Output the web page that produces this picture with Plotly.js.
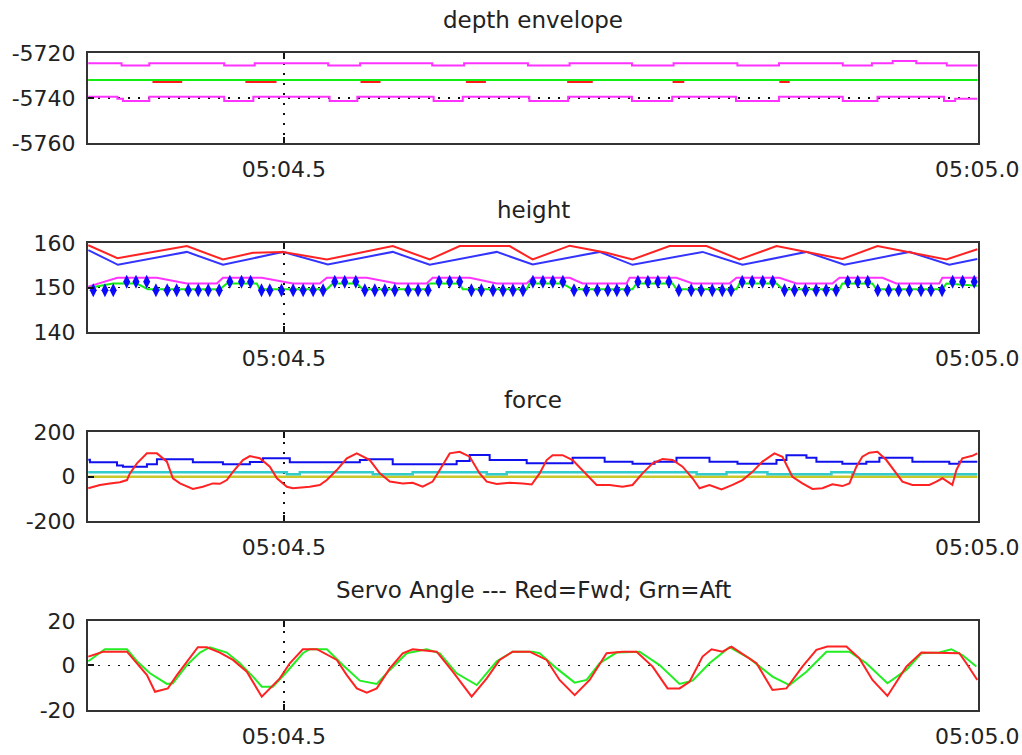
<!DOCTYPE html>
<html>
<head>
<meta charset="utf-8">
<script src="https://cdn.plot.ly/plotly-3.0.1.min.js"></script>
<style>html,body{margin:0;padding:0;background:#fff;}#chart{width:1022px;height:755px;}</style>
</head>
<body>
<div id="chart"></div>
<script>
// ---------- data (time in seconds within minute 05) ----------
const xTickVals = [4.5, 5.0];
const xTickText = ['05:04.5', '05:05.0'];

// depth envelope
const depthTopT = [4.359,4.383,4.403,4.457,4.479,4.532,4.555,4.607,4.630,4.676,4.706,4.751,4.781,4.827,4.857,4.903,4.924,4.939,4.956,4.978,5.000];
const depthTopV = [-5724.6,-5725.6,-5724.6,-5725.6,-5724.6,-5725.6,-5724.6,-5725.6,-5724.6,-5725.6,-5724.6,-5725.6,-5724.6,-5725.6,-5724.6,-5725.6,-5724.6,-5723.6,-5724.6,-5725.6,-5725.6];
const depthBotT = [4.359,4.380,4.384,4.403,4.457,4.478,4.533,4.553,4.608,4.629,4.677,4.705,4.751,4.780,4.826,4.857,4.903,4.928,4.976,4.984,5.000];
const depthBotV = [-5739.4,-5740.3,-5741.3,-5739.4,-5741.3,-5739.4,-5741.3,-5739.4,-5741.3,-5739.4,-5741.3,-5739.4,-5741.3,-5739.4,-5741.3,-5739.4,-5741.3,-5739.4,-5741.3,-5740.3,-5740.3];
const depthCmdT = [4.359,4.406,4.426,4.473,4.494,4.556,4.569,4.632,4.645,4.705,4.722,4.781,4.788,4.858,4.864,5.000];
const depthCmdV = [-5732,-5732.9,-5732,-5732.9,-5732,-5732.9,-5732,-5732.9,-5732,-5732.9,-5732,-5732.9,-5732,-5732.9,-5732,-5732];
const depthMidT = [4.359, 5.000];
const depthMidV = [-5732, -5732];
const depthTicks = [-5760, -5740, -5720];
const depthTickText = ['-5760', '-5740', '-5720'];

// height
const hRedT = [4.359,4.380,4.4301,4.4561,4.4777,4.4993,4.5310,4.5785,4.6052,4.6268,4.6628,4.6794,4.7061,4.7327,4.7514,4.7781,4.8048,4.8285,4.8552,4.8768,4.9027,4.9280,4.9532,4.9777,5.000];
const hRedV = [159.5,156.6,159.3,156.3,157.8,158.0,156.3,159.3,156.3,159.3,159.3,156.3,159.4,157.8,156.3,159.3,159.3,156.3,159.3,158.0,156.4,159.3,157.8,156.3,158.6];
const hBlueT = [4.359,4.3804,4.4301,4.4561,4.4993,4.5317,4.5785,4.6052,4.6535,4.6794,4.7277,4.7514,4.8019,4.8307,4.8768,4.9042,4.9510,4.9798,5.000];
const hBlueV = [158.4,155.1,158.0,155.1,158.0,155.2,158.0,155.1,158.0,155.2,158.0,155.1,158.0,155.1,158.0,155.1,158.0,155.1,156.4];
const hMagT = [4.359,4.380,4.4085,4.4301,4.4517,4.4561,4.4841,4.5065,4.5259,4.5310,4.5598,4.5814,4.6030,4.6073,4.6340,4.6535,4.6751,4.6794,4.7061,4.7154,4.7471,4.7493,4.7831,4.7947,4.8213,4.8264,4.8573,4.8696,4.8955,4.9006,4.9316,4.9416,4.9726,4.9748,5.000];
const hMagV = [150.2,152.2,152.2,150.9,150.9,152.2,152.2,150.9,150.9,152.2,152.2,150.9,150.9,152.2,152.2,150.9,150.9,152.2,152.2,150.9,150.9,152.2,152.2,150.9,150.9,152.2,152.2,150.9,150.9,152.2,152.2,150.9,150.9,152.2,152.2];
const hGrnT = [4.359,4.3768,4.3941,4.4020,4.4539,4.4589,4.4805,4.4827,4.5310,4.5353,4.5526,4.5569,4.6030,4.6052,4.6268,4.6290,4.6751,4.6772,4.7010,4.7082,4.7514,4.7543,4.7803,4.7831,4.8264,4.8285,4.8552,4.8595,4.9006,4.9027,4.9244,4.9272,4.9748,4.9777,5.000];
const hGrnV = [149.9,150.9,150.9,149.6,149.6,150.9,150.9,149.6,149.6,150.9,150.9,149.6,149.6,150.9,150.9,149.6,149.6,150.9,150.9,149.6,149.6,150.9,150.9,149.6,149.6,150.9,150.9,149.6,149.6,150.9,150.9,149.6,149.6,150.9,150.4];
const hMarkT = [4.3626,4.3710,4.3770,4.3867,4.3934,4.4011,4.4078,4.4159,4.4227,4.4311,4.4383,4.4455,4.4534,4.4611,4.4695,4.4760,4.4839,4.4899,4.4983,4.5067,4.5139,4.5211,4.5283,4.5367,4.5439,4.5519,4.5584,4.5656,4.5728,4.5800,4.5896,4.5968,4.6040,4.6119,4.6196,4.6268,4.6352,4.6424,4.6508,4.6580,4.6652,4.6724,4.6796,4.6868,4.6940,4.7012,4.7092,4.7181,4.7260,4.7336,4.7401,4.7476,4.7553,4.7625,4.7697,4.7776,4.7848,4.7937,4.8009,4.8089,4.8161,4.8225,4.8305,4.8377,4.8453,4.8525,4.8610,4.8682,4.8761,4.8838,4.8910,4.8982,4.9066,4.9138,4.9210,4.9282,4.9361,4.9433,4.9510,4.9594,4.9666,4.9746,4.9822,4.9894,4.9978];
const hMarkV = [149.4,149.4,149.4,151.3,151.3,151.3,149.4,149.4,149.4,149.4,149.4,149.4,149.4,151.3,151.3,151.3,149.4,149.4,149.4,149.4,149.4,149.4,149.4,151.3,151.3,151.3,149.4,149.4,149.4,149.4,149.4,149.4,149.4,151.3,151.3,151.3,149.4,149.4,149.4,149.4,149.4,149.4,151.3,151.3,151.3,151.3,149.4,149.4,149.4,149.4,149.4,149.4,151.3,151.3,151.3,151.3,149.4,149.4,149.4,149.4,149.4,149.4,151.3,151.3,151.3,151.3,149.4,149.4,149.4,149.4,149.4,149.4,151.3,151.3,151.3,149.4,149.4,149.4,149.4,149.4,149.4,149.4,151.3,151.3,151.3];
const heightTicks = [140, 150, 160];
const heightTickText = ['140', '150', '160'];

// force
const fBlueT = [4.359,4.3602,4.3797,4.3840,4.4013,4.4085,4.4344,4.4561,4.4755,4.4849,4.5043,4.5548,4.5598,4.5785,4.6246,4.6340,4.6484,4.6751,4.7082,4.7313,4.7514,4.7673,4.7831,4.8069,4.8271,4.8552,4.8624,4.8768,4.8840,4.9027,4.9200,4.9294,4.9532,4.9798,4.9870,5.000];
const fBlueV = [75,64,50,44,55,77,64,55,65,82,64,74,77,55,70,97,74,60,84.5,66.6,57.8,66.6,84.5,66.6,57.8,74,96,84,66,57.8,66.6,84.5,66,57.8,66,66];
const fCyanT = [4.359,4.5022,4.5115,4.5641,4.5929,4.6463,4.6607,4.7976,4.8192,4.8487,4.8948,4.9099,5.000];
const fCyanV = [19,10,19,10,19,10,19,10,19,10,19,10,10];
const fYelT = [4.359, 5.000];
const fYelV = [-1, -1];
const fRedT = [4.359,4.3674,4.3746,4.3818,4.3869,4.3890,4.3941,4.4013,4.4085,4.4157,4.4200,4.4251,4.4344,4.4416,4.4488,4.4539,4.4589,4.4633,4.4705,4.4755,4.4827,4.4899,4.4950,4.5022,4.5065,4.5187,4.5259,4.5310,4.5382,4.5454,4.5526,4.5620,4.5692,4.5764,4.5857,4.5929,4.6001,4.6073,4.6124,4.6196,4.6268,4.6340,4.6412,4.6463,4.6535,4.6628,4.6722,4.6787,4.6844,4.6895,4.6938,4.7010,4.7082,4.7154,4.7255,4.7349,4.7442,4.7514,4.7586,4.7659,4.7731,4.7803,4.7875,4.7947,4.7997,4.8069,4.8156,4.8235,4.8307,4.8379,4.8451,4.8537,4.8595,4.8667,4.8739,4.8811,4.8883,4.8955,4.9027,4.9078,4.9128,4.9171,4.9222,4.9280,4.9344,4.9416,4.9460,4.9532,4.9654,4.9705,4.9748,4.9820,4.9849,4.9892,4.9964,5.000];
const fRedV = [-53,-38,-31,-26,-16,14,59,104,104,67,-8,-31,-56,-46,-31,-33,-16,21,74,92,82,44,-8,-46,-53,-46,-38,-16,29,82,104,74,14,-23,-31,-28,-46,-23,29,104,111,89,14,-23,-34,-28,-31,-36,14,74,96,96,74,29,-38,-38,-46,-38,14,59,79,74,44,-8,-53,-38,-58,-38,-16,21,67,104,89,-1,-31,-56,-53,-35,-43,-31,44,89,107,111,74,14,-23,-38,-38,-23,-8,-38,29,82,93,104];
const forceTicks = [-200, 0, 200];
const forceTickText = ['-200', '0', '200'];

// servo angle
const sGrnT = [4.359,4.3710,4.3869,4.3941,4.4035,4.4157,4.4200,4.4301,4.4395,4.4467,4.4589,4.4683,4.4777,4.4841,4.4921,4.5022,4.5137,4.5187,4.5310,4.5425,4.5548,4.5670,4.5764,4.5886,4.6030,4.6124,4.6246,4.6391,4.6535,4.6650,4.6794,4.6844,4.6967,4.7097,4.7183,4.7277,4.7399,4.7565,4.7709,4.7853,4.7947,4.8069,4.8213,4.8357,4.8523,4.8646,4.8768,4.8912,4.9078,4.9200,4.9352,4.9488,4.9597,4.9726,4.9813,4.9892,4.9993];
const sGrnV = [1.9,7.3,7.3,1.9,-3.5,-8.3,-8.0,0.2,5.8,8.2,5.8,1.0,-5.0,-9.5,-9.5,-2.8,5.5,7.3,7.3,0.2,-6.8,-8.3,-2.0,5.5,7.3,5.5,-3.5,-8.8,1.9,6.2,6.2,5.5,-1.3,-7.7,-6.5,1.0,5.8,6.2,0.2,-8.3,-6.8,1.0,8.2,3.2,-5.0,-8.8,-2.8,6.2,6.2,1.0,-8.0,-2.0,5.5,5.8,7.3,4.7,-0.5];
const sRedT = [4.359,4.3696,4.3869,4.3941,4.4013,4.4071,4.4164,4.4229,4.4301,4.4380,4.4445,4.4539,4.4633,4.4733,4.4841,4.4971,4.5043,4.5137,4.5238,4.5382,4.5454,4.5526,4.5598,4.5670,4.5764,4.5857,4.5929,4.6102,4.6218,4.6354,4.6463,4.6556,4.6650,4.6772,4.6895,4.6988,4.7097,4.7205,4.7327,4.7442,4.7543,4.7659,4.7767,4.7853,4.7925,4.8019,4.8084,4.8163,4.8228,4.8408,4.8523,4.8624,4.8739,4.8840,4.8919,4.9056,4.9150,4.9244,4.9352,4.9488,4.9597,4.9870,4.9921,5.000];
const sRedV = [4.0,6.2,6.2,1.0,-4.3,-11.8,-10.3,-4.3,1.9,8.2,8.2,5.8,2.5,-2.8,-14.0,-5.8,1.0,7.3,7.3,2.5,-4.3,-10.3,-12.2,-10.3,-1.3,5.5,7.3,6.2,-2.8,-14.0,-5.8,2.5,6.2,6.2,2.5,-6.5,-13.3,-6.5,5.5,6.2,6.2,-0.5,-10.3,-10.3,-7.3,4.0,7.3,6.2,8.5,1.0,-11.0,-10.3,-0.5,7.0,8.5,8.5,3.2,-6.5,-13.7,-0.5,5.8,5.5,1.0,-6.5];
const servoTicks = [-20, 0, 20];
const servoTickText = ['-20', '0', '20'];

const panelTitles = ['depth envelope', 'height', 'force', 'Servo Angle --- Red=Fwd; Grn=Aft'];

// ---------- styling ----------
const FONT = 'DejaVu Sans, Liberation Sans, sans-serif';
const TXT = '#222222';
const X0 = 4.3588, X1 = 5.0005;

function line(x, y, color, xa, ya, shape, width) {
  return {x: x, y: y, type: 'scatter', mode: 'lines', xaxis: xa, yaxis: ya,
          line: {color: color, width: width || 2, shape: shape || 'linear'},
          hoverinfo: 'skip', showlegend: false};
}

const traces = [
  line(depthTopT, depthTopV, '#ff33ff', 'x', 'y', 'hv'),
  line(depthBotT, depthBotV, '#ff33ff', 'x', 'y', 'hv'),
  line(depthCmdT, depthCmdV, '#ff1a1a', 'x', 'y', 'hv'),
  line(depthMidT, depthMidV, '#11ee11', 'x', 'y'),

  line(hMagT, hMagV, '#ff33ff', 'x2', 'y2'),
  line(hGrnT, hGrnV, '#11ee11', 'x2', 'y2'),
  line(hBlueT, hBlueV, '#3333ff', 'x2', 'y2'),
  line(hRedT, hRedV, '#ff2222', 'x2', 'y2'),
  {x: hMarkT, y: hMarkV, type: 'scatter', mode: 'markers', xaxis: 'x2', yaxis: 'y2',
   marker: {symbol: 'diamond-tall', size: 10, color: '#0a0aff'}, hoverinfo: 'skip', showlegend: false},

  line(fYelT, fYelV, '#c8c828', 'x3', 'y3', 'hv', 2.5),
  line(fCyanT, fCyanV, '#33cccc', 'x3', 'y3', 'hv', 2.5),
  line(fBlueT, fBlueV, '#1111ee', 'x3', 'y3', 'hv'),
  line(fRedT, fRedV, '#ff2222', 'x3', 'y3'),

  line(sGrnT, sGrnV, '#22ee22', 'x4', 'y4'),
  line(sRedT, sRedV, '#ff2222', 'x4', 'y4')
];

function xAxis(anchor) {
  return {
    anchor: anchor, domain: [0, 1], range: [X0, X1],
    tickmode: 'array', tickvals: xTickVals, ticktext: xTickText,
    ticks: 'inside', ticklen: 6, tickwidth: 2, tickcolor: '#111',
    showgrid: true, gridcolor: '#111', gridwidth: 1.5, griddash: '2px,8px',
    showline: true, linecolor: '#333', linewidth: 2, mirror: 'ticks',
    zeroline: false, fixedrange: true, ticklabelstandoff: 6,
    tickfont: {family: FONT, size: 22, color: TXT}
  };
}
function yAxis(anchor, dom, rng, tv, tt) {
  return {
    anchor: anchor, domain: dom, range: rng,
    tickmode: 'array', tickvals: tv, ticktext: tt,
    ticks: 'inside', ticklen: 6, tickwidth: 2, tickcolor: '#111',
    showgrid: true, gridcolor: '#111', gridwidth: 1.5, griddash: '2px,8px',
    showline: true, linecolor: '#333', linewidth: 2, mirror: true,
    zeroline: false, fixedrange: true, ticklabelstandoff: 6,
    tickfont: {family: FONT, size: 22, color: TXT}
  };
}

const titleY = [1.0502, 0.761, 0.4718, 0.1826];
const annotations = panelTitles.map((t, i) => ({
  text: t, xref: 'paper', yref: 'paper', x: 0.5, y: titleY[i],
  xanchor: 'center', yanchor: 'middle', showarrow: false,
  font: {family: FONT, size: 23, color: TXT}
}));

const layout = {
  width: 1022, height: 755,
  margin: {l: 88, r: 44, t: 53, b: 45},
  paper_bgcolor: '#ffffff', plot_bgcolor: '#ffffff',
  showlegend: false,
  xaxis: xAxis('y'), xaxis2: xAxis('y2'), xaxis3: xAxis('y3'), xaxis4: xAxis('y4'),
  yaxis: yAxis('x', [0.8630, 1.0], [-5760, -5720], depthTicks, depthTickText),
  yaxis2: yAxis('x2', [0.5753, 0.7108], [140, 160], heightTicks, heightTickText),
  yaxis3: yAxis('x3', [0.2877, 0.4231], [-200, 200], forceTicks, forceTickText),
  yaxis4: yAxis('x4', [0.0, 0.1355], [-20, 20], servoTicks, servoTickText),
  annotations: annotations
};

Plotly.newPlot('chart', traces, layout, {displayModeBar: false, staticPlot: true});
</script>
</body>
</html>
